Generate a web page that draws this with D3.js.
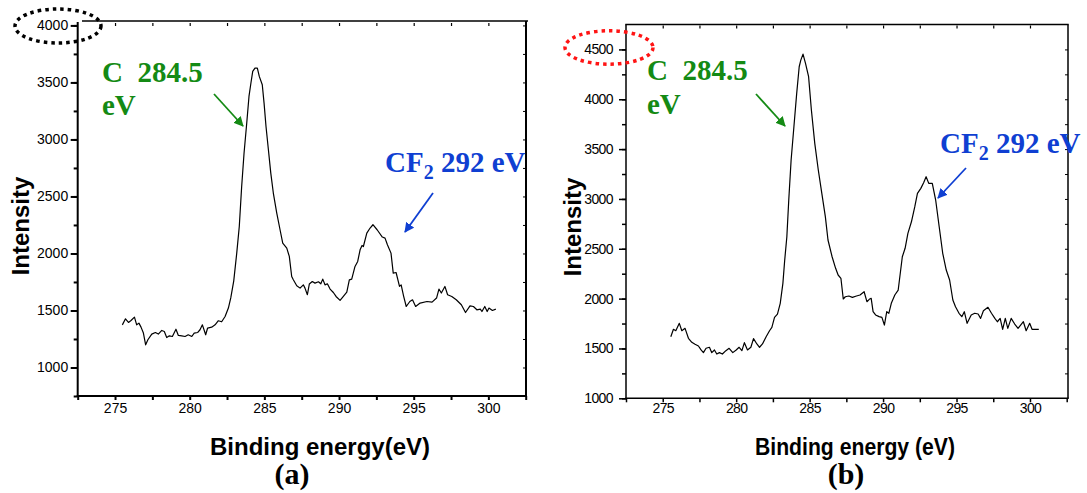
<!DOCTYPE html>
<html><head><meta charset="utf-8">
<script src="https://cdn.jsdelivr.net/npm/d3@7"></script>
<style>
body{margin:0;background:#fff}
svg{display:block}
</style></head><body>
<svg id="c" width="1087" height="493"></svg>
<script>
// ---------- data ----------
const xTickLabels = [275, 280, 285, 290, 295, 300];
const yTickLabelsA = [1000, 1500, 2000, 2500, 3000, 3500, 4000];
const yTickLabelsB = [1000, 1500, 2000, 2500, 3000, 3500, 4000, 4500];

const energyA = [275.49,275.7,275.9,276.07,276.3,276.45,276.6,276.74,276.9,277.05,277.2,277.46,277.7,277.9,278.13,278.3,278.46,278.64,278.84,279.08,279.24,279.47,279.69,279.9,280.14,280.3,280.54,280.69,280.85,281.07,281.2,281.47,281.7,281.92,282.14,282.37,282.59,282.75,282.95,283.15,283.32,283.48,283.64,283.82,283.97,284.1,284.22,284.37,284.53,284.66,284.86,284.98,285.11,285.27,285.43,285.6,285.83,286.05,286.23,286.5,286.67,286.83,286.94,287.17,287.39,287.61,287.72,287.88,288.01,288.21,288.39,288.62,288.78,288.91,289.06,289.22,289.4,289.62,289.8,290.07,290.29,290.52,290.69,290.85,291.07,291.25,291.41,291.54,291.63,291.86,292.08,292.27,292.55,292.9,293.08,293.24,293.48,293.63,293.82,294.05,294.16,294.32,294.5,294.74,294.92,295.13,295.43,295.89,296.23,296.53,296.69,296.85,297.09,297.27,297.55,297.85,298.19,298.47,298.77,299.0,299.23,299.46,299.57,299.76,299.92,300.04,300.27,300.5];
const intensityA = [1374,1427,1395,1412,1442,1374,1389,1354,1302,1199,1243,1293,1307,1293,1325,1316,1263,1278,1272,1336,1281,1278,1272,1287,1272,1302,1307,1331,1374,1287,1346,1354,1374,1410,1401,1447,1521,1610,1760,2003,2237,2588,2881,3144,3377,3495,3597,3626,3626,3553,3480,3319,3114,2910,2705,2530,2354,2208,2091,2047,1974,1798,1769,1717,1696,1725,1696,1638,1732,1754,1740,1752,1734,1775,1725,1734,1688,1658,1623,1588,1623,1661,1769,1775,1886,1930,2032,2070,2061,2179,2223,2252,2208,2144,2135,2076,2003,1828,1833,1711,1725,1629,1535,1579,1594,1535,1565,1579,1573,1609,1688,1653,1711,1638,1623,1594,1550,1482,1541,1535,1506,1512,1491,1535,1491,1521,1500,1512];

const energyB = [275.55,275.73,275.89,276.13,276.3,276.52,276.75,276.98,277.2,277.43,277.61,277.77,277.95,278.18,278.34,278.52,278.68,278.86,279.06,279.3,279.52,279.77,280.0,280.2,280.39,280.56,280.77,281.0,281.18,281.41,281.59,281.79,282.04,282.27,282.43,282.61,282.81,283.0,283.18,283.3,283.45,283.58,283.74,283.93,284.12,284.29,284.4,284.55,284.72,284.93,285.12,285.35,285.59,285.83,286.07,286.25,286.53,286.77,286.94,287.13,287.29,287.43,287.67,287.91,288.19,288.43,288.71,288.9,289.06,289.19,289.32,289.49,289.73,289.92,290.09,290.25,290.39,290.56,290.8,291.03,291.31,291.5,291.69,291.93,292.16,292.34,292.57,292.76,292.93,293.11,293.35,293.58,293.82,294.06,294.3,294.53,294.75,294.93,295.17,295.36,295.53,295.72,296.0,296.24,296.47,296.64,296.83,297.14,297.38,297.61,297.78,297.97,298.14,298.32,298.49,298.72,298.96,299.19,299.55,299.74,299.98,300.14,300.6];
const intensityB = [1618,1692,1678,1752,1678,1702,1602,1562,1542,1525,1485,1458,1502,1512,1458,1485,1444,1458,1444,1478,1502,1458,1485,1512,1478,1558,1485,1512,1598,1545,1512,1545,1618,1678,1712,1812,1845,1953,2153,2380,2620,2989,3390,3724,4059,4326,4393,4453,4360,4226,3892,3558,3290,3056,2822,2588,2420,2304,2237,2204,1996,2019,2026,2013,2026,2036,2069,1969,1993,2003,1869,1836,1819,1812,1735,1869,1853,1953,2036,2086,2420,2505,2655,2771,2922,3056,3106,3163,3223,3156,3156,2989,2721,2455,2287,2187,1986,1919,1853,1819,1869,1752,1836,1853,1846,1802,1879,1913,1853,1802,1768,1802,1692,1802,1702,1802,1745,1702,1768,1678,1752,1692,1692];

// ---------- drawing ----------
const svg = d3.select("#c");
const SANS = "'Liberation Sans', Arial, Helvetica, sans-serif";
const SERIF = "'Liberation Serif', 'Times New Roman', serif";
const GREEN = "#148a14";
const BLUE = "#0f3fd2";

const defs = svg.append("defs");
[["ag", GREEN], ["ab", BLUE]].forEach(([id, col]) => {
  defs.append("marker").attr("id", id).attr("viewBox", "0 0 10 10")
    .attr("refX", 9).attr("refY", 5).attr("markerWidth", 5.5).attr("markerHeight", 5.5)
    .attr("markerUnits", "strokeWidth").attr("orient", "auto")
    .append("path").attr("d", "M0,0 L10,5 L0,10 z").attr("fill", col);
});

function panel(cfg, energy, intensity, yLabels) {
  const g = svg.append("g");
  const x = d3.scaleLinear().domain([272.5, 302.5]).range([cfg.x0, cfg.x1]);
  const y = d3.scaleLinear().domain(cfg.yDom).range([cfg.y0, cfg.y1]);
  const xMinor = d3.range(272.5, 302.6, 2.5);
  const yMinor = d3.range(cfg.yDom[0], cfg.yDom[1] + 1, 250).filter(v => y(v) >= cfg.y1 + 2);

  // bottom axis: ticks
  g.append("g").attr("transform", `translate(0,${cfg.y0})`)
    .call(d3.axisBottom(x).tickValues(xMinor).tickSize(4).tickFormat(""))
    .call(a => a.select(".domain").remove())
    .selectAll("line").attr("stroke", "#000").attr("stroke-width", cfg.sw);
  // bottom labels
  g.append("g").attr("transform", `translate(0,${cfg.y0})`)
    .call(d3.axisBottom(x).tickValues(xTickLabels).tickSize(0).tickPadding(cfg.xPad).tickFormat(d3.format("d")))
    .call(a => a.select(".domain").remove())
    .selectAll("text").attr("font-family", SANS).attr("font-size", cfg.tickFont).attr("fill", "#000")
    .attr("letter-spacing", cfg.ls);

  // left axis minor/major ticks
  g.append("g").attr("transform", `translate(${cfg.x0},0)`)
    .call(d3.axisLeft(y).tickValues(yMinor).tickSize(4).tickFormat(""))
    .call(a => a.select(".domain").remove())
    .selectAll("line").attr("stroke", "#000").attr("stroke-width", cfg.sw);
  g.append("g").attr("transform", `translate(${cfg.x0},0)`)
    .call(d3.axisLeft(y).tickValues(yLabels).tickSize(7).tickPadding(cfg.yPad).tickFormat(d3.format("d")))
    .call(a => a.select(".domain").remove())
    .call(a => a.selectAll("line").attr("stroke", "#000").attr("stroke-width", cfg.sw))
    .selectAll("text").attr("font-family", SANS).attr("font-size", cfg.tickFont).attr("fill", "#000")
    .attr("letter-spacing", cfg.ls);

  // right axis inward ticks
  g.append("g").attr("transform", `translate(${cfg.rx},0)`)
    .call(d3.axisLeft(y).tickValues(yMinor.filter(v => v > cfg.yDom[0])).tickSize(3).tickFormat(""))
    .call(a => a.select(".domain").remove())
    .selectAll("line").attr("x2", -3).attr("x1", 0).attr("stroke", "#000").attr("stroke-width", 1);
  // top inward ticks
  g.append("g").attr("transform", `translate(0,${cfg.y1})`)
    .call(d3.axisTop(x).tickValues(xMinor.filter(v => v > 272.5 && v < 302.5)).tickSize(3).tickFormat(""))
    .call(a => a.select(".domain").remove())
    .selectAll("line").attr("y1", 1).attr("y2", 4).attr("stroke", "#000").attr("stroke-width", 1.2);

  // frame lines
  const ln = (x1, y1, x2, y2, w) => g.append("line").attr("x1", x1).attr("y1", y1).attr("x2", x2).attr("y2", y2)
    .attr("stroke", "#000").attr("stroke-width", w);
  ln(cfg.x0, cfg.y0, cfg.x0, cfg.y1 + cfg.leftTopGap, cfg.sw);
  ln(cfg.x0 - cfg.sw / 2, cfg.y0, cfg.rx + cfg.sw / 2, cfg.y0, cfg.sw);
  ln(cfg.rx, cfg.y0, cfg.rx, cfg.topY, cfg.sw);
  ln(cfg.topX0, cfg.topY, cfg.topX1, cfg.topY, cfg.topW);

  // curve
  const pts = energy.map((e, i) => [e, intensity[i]]);
  g.append("path").datum(pts)
    .attr("d", d3.line().x(d => x(d[0])).y(d => y(d[1])))
    .attr("fill", "none").attr("stroke", "#000").attr("stroke-width", 1.2).attr("stroke-linejoin", "round");

  // axis titles
  g.append("text").attr("transform", `translate(${cfg.ytX},${cfg.ytY}) rotate(-90)`)
    .attr("text-anchor", "middle").attr("font-family", SANS).attr("font-weight", "bold")
    .attr("font-size", 24).text("Intensity");
  const xt = g.append("text").attr("x", cfg.xtX).attr("y", 455).attr("text-anchor", "middle")
    .attr("font-family", SANS).attr("font-weight", "bold").attr("font-size", 24).text(cfg.xTitle);
  if (cfg.xtLen) xt.attr("textLength", cfg.xtLen).attr("lengthAdjust", "spacingAndGlyphs");
  g.append("text").attr("x", cfg.capX).attr("y", 484).attr("text-anchor", "middle")
    .attr("font-family", SERIF).attr("font-weight", "bold").attr("font-size", 30).text(cfg.caption);

  // green annotation
  g.append("text").attr("x", cfg.gx).attr("y", cfg.gy1).attr("font-family", SERIF).attr("font-weight", "bold")
    .attr("font-size", 29).attr("fill", GREEN).style("white-space", "pre").text("C  284.5");
  g.append("text").attr("x", cfg.gx).attr("y", cfg.gy2).attr("font-family", SERIF).attr("font-weight", "bold")
    .attr("font-size", 29).attr("fill", GREEN).text("eV");
  g.append("line").attr("x1", cfg.ga[0]).attr("y1", cfg.ga[1]).attr("x2", cfg.ga[2]).attr("y2", cfg.ga[3])
    .attr("stroke", GREEN).attr("stroke-width", 1.8).attr("marker-end", "url(#ag)");

  // blue annotation
  const bt = g.append("text").attr("x", cfg.bx).attr("y", cfg.by).attr("font-family", SERIF).attr("font-weight", "bold")
    .attr("font-size", 29).attr("fill", BLUE);
  bt.append("tspan").text("CF");
  bt.append("tspan").attr("font-size", 20).attr("dy", 7).text("2");
  bt.append("tspan").attr("dy", -7).style("white-space", "pre").text(" 292 eV");
  g.append("line").attr("x1", cfg.ba[0]).attr("y1", cfg.ba[1]).attr("x2", cfg.ba[2]).attr("y2", cfg.ba[3])
    .attr("stroke", BLUE).attr("stroke-width", 1.8).attr("marker-end", "url(#ab)");

  // dotted ellipse
  g.append("ellipse").attr("cx", cfg.el[0]).attr("cy", cfg.el[1]).attr("rx", cfg.el[2]).attr("ry", cfg.el[3])
    .attr("fill", "none").attr("stroke", cfg.elColor).attr("stroke-width", 3.5).attr("stroke-dasharray", "3.5 4");
}

panel({
  x0: 77.7, x1: 525.7, rx: 526, y0: 396, y1: 22, yDom: [750, 4030], sw: 2,
  xPad: 7, yPad: 2.5, tickFont: 14, ls: 0, leftTopGap: 0,
  topY: 21, topX0: 82, topX1: 528, topW: 1.6,
  ytX: 29, ytY: 226, xtX: 320, xTitle: "Binding energy(eV)", capX: 292, caption: "(a)",
  gx: 102, gy1: 82, gy2: 115, ga: [214, 94, 243, 126],
  bx: 385, by: 172, ba: [433, 193, 405, 232],
  el: [58, 26, 43, 17], elColor: "#000"
}, energyA, intensityA, yTickLabelsA);

panel({
  x0: 626, x1: 1066.7, rx: 1068, y0: 398.3, y1: 24.5, yDom: [1000, 4750], sw: 1.5,
  xPad: 5, yPad: 6, tickFont: 14, ls: -0.6, leftTopGap: 0,
  topY: 24.5, topX0: 625.3, topX1: 1068.7, topW: 1.5,
  ytX: 581, ytY: 227, xtX: 855, xTitle: "Binding energy (eV)", xtLen: 200, capX: 846, caption: "(b)",
  gx: 647, gy1: 80, gy2: 114, ga: [756, 94, 785, 126],
  bx: 940, by: 153, ba: [966, 168, 938, 198],
  el: [609, 47.5, 44, 16.7], elColor: "#ff1414"
}, energyB, intensityB, yTickLabelsB);
</script>
</body></html>
